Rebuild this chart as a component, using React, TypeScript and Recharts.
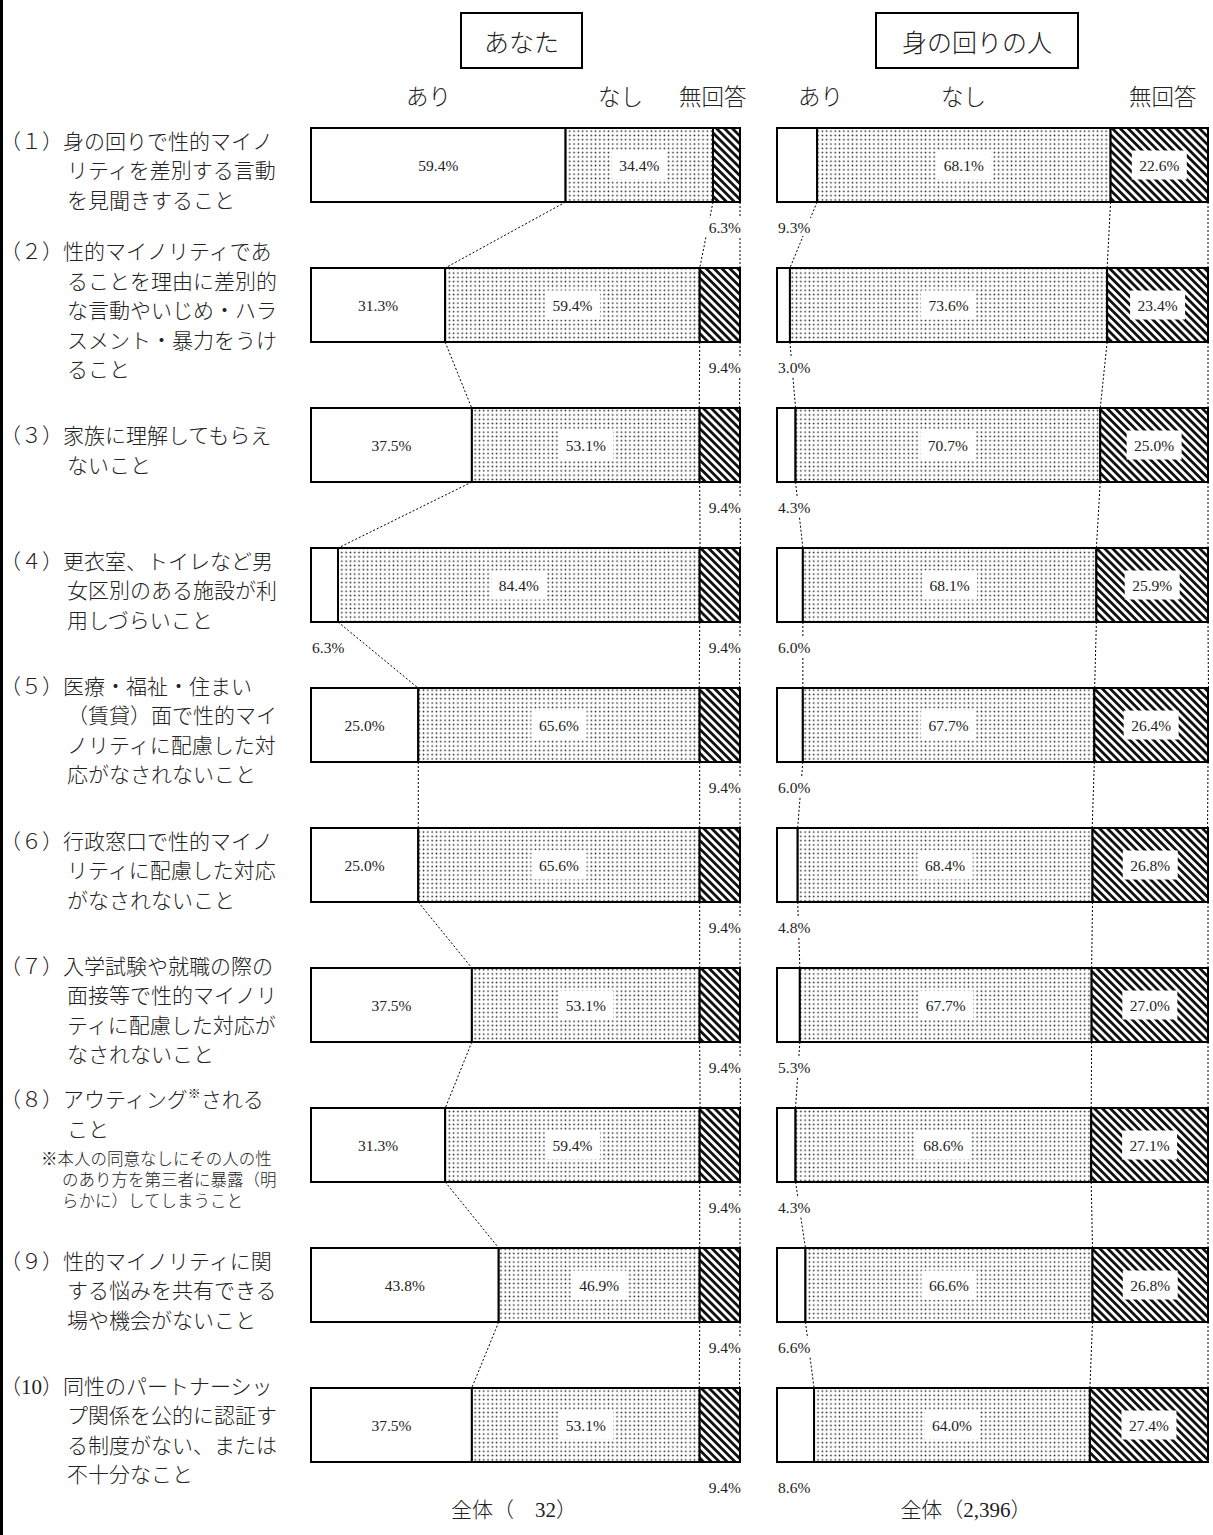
import React from 'react';
import { Bar, BarChart, XAxis, YAxis } from 'recharts';

const categories = ['(1)', '(2)', '(3)', '(4)', '(5)', '(6)', '(7)', '(8)', '(9)', '(10)'];

const itemPrefixes = ['（１）', '（２）', '（３）', '（４）', '（５）', '（６）', '（７）', '（８）', '（９）', '（10）'];

const itemLines = [
  ['身の回りで性的マイノ', 'リティを差別する言動', 'を見聞きすること'],
  ['性的マイノリティであ', 'ることを理由に差別的', 'な言動やいじめ・ハラ', 'スメント・暴力をうけ', 'ること'],
  ['家族に理解してもらえ', 'ないこと'],
  ['更衣室、トイレなど男', '女区別のある施設が利', '用しづらいこと'],
  ['医療・福祉・住まい', '（賃貸）面で性的マイ', 'ノリティに配慮した対', '応がなされないこと'],
  ['行政窓口で性的マイノ', 'リティに配慮した対応', 'がなされないこと'],
  ['入学試験や就職の際の', '面接等で性的マイノリ', 'ティに配慮した対応が', 'なされないこと'],
  ['アウティング※される', 'こと'],
  ['性的マイノリティに関', 'する悩みを共有できる', '場や機会がないこと'],
  ['同性のパートナーシッ', 'プ関係を公的に認証す', 'る制度がない、または', '不十分なこと'],
];

const outingNote = ['※本人の同意なしにその人の性', 'のあり方を第三者に暴露（明', 'らかに）してしまうこと'];

const seriesNames = ['あり', 'なし', '無回答'];

// あなた (n=32)
const youYes = [59.4, 31.3, 37.5, 6.3, 25.0, 25.0, 37.5, 31.3, 43.8, 37.5];
const youNo = [34.4, 59.4, 53.1, 84.4, 65.6, 65.6, 53.1, 59.4, 46.9, 53.1];
const youNa = [6.3, 9.4, 9.4, 9.4, 9.4, 9.4, 9.4, 9.4, 9.4, 9.4];

// 身の回りの人 (n=2,396)
const othersYes = [9.3, 3.0, 4.3, 6.0, 6.0, 4.8, 5.3, 4.3, 6.6, 8.6];
const othersNo = [68.1, 73.6, 70.7, 68.1, 67.7, 68.4, 67.7, 68.6, 66.6, 64.0];
const othersNa = [22.6, 23.4, 25.0, 25.9, 26.4, 26.8, 27.0, 27.1, 26.8, 27.4];

const youTotal = '全体（　32）';
const othersTotal = '全体（2,396）';

const FONT = '"Liberation Serif", "Noto Sans CJK JP", serif';
const INK = '#222';
const H = 1535;
const M_TOP = 95;
const M_BOTTOM = 40;
const ROW_PITCH = (H - M_TOP - M_BOTTOM) / categories.length;
const BAR = 74;

type Row = { item: string; yes: number; no: number; na: number };

function makeRows(yes: number[], no: number[], na: number[]): Row[] {
  return categories.map((item, i) => ({ item, yes: yes[i], no: no[i], na: na[i] }));
}

const youRows = makeRows(youYes, youNo, youNa);
const othersRows = makeRows(othersYes, othersNo, othersNa);

const pct = (v: number) => `${v.toFixed(1)}%`;

function BoxedText({ cx, cy, text, anchor = 'middle', box = true, w = 55, h = 29 }: any) {
  const bx = anchor === 'middle' ? cx - w / 2 : anchor === 'end' ? cx - w + 2 : cx - 2;
  return (
    <g>
      {box && <rect x={bx} y={cy - h / 2} width={w} height={h} fill="#fff" />}
      <text x={cx} y={cy} textAnchor={anchor} dominantBaseline="central" fontFamily={FONT} fontSize={15.5} fill={INK}>
        {text}
      </text>
    </g>
  );
}

function segmentShape(rows: Row[], key: 'yes' | 'no' | 'na', fill: string) {
  return function Segment(props: any) {
    const { x, y, width, height, index, payload } = props;
    const row: Row = payload ?? rows[index];
    const value = row[key];
    const parts: React.ReactNode[] = [];

    if (key === 'yes') {
      // dotted connectors to the next row, built from this bar's own scale
      const unit = width / row.yes;
      const next = rows[index + 1];
      if (next) {
        const cuts = (r: Row) => [r.yes, r.yes + r.no, r.yes + r.no + r.na].map((v) => x + v * unit);
        const a = cuts(row);
        const b = cuts(next);
        a.forEach((cx, k) =>
          parts.push(
            <line key={`c${k}`} x1={cx} y1={y + height} x2={b[k]} y2={y + ROW_PITCH} stroke="#000" strokeWidth={1} strokeDasharray="2 2" />
          )
        );
      }
    }

    parts.push(<rect key="r" x={x} y={y} width={width} height={height} fill={fill} stroke="#000" strokeWidth={2} />);

    if (value >= 10) {
      parts.push(<BoxedText key="t" cx={x + width / 2} cy={y + height / 2} text={pct(value)} box={key !== 'yes'} />);
    } else if (key === 'yes') {
      parts.push(<BoxedText key="t" cx={x + 1} cy={y + height + 25} text={pct(value)} anchor="start" w={38} h={18} />);
    } else {
      parts.push(<BoxedText key="t" cx={x + width + 1} cy={y + height + 25} text={pct(value)} anchor="end" w={38} h={18} />);
    }
    return <g>{parts}</g>;
  };
}

function renderLine(s: string) {
  if (!s.includes('※')) return s;
  const [head, tail] = s.split('※');
  return [
    head,
    <tspan key="m" fontSize={13} dy={-7}>※</tspan>,
    <tspan key="t" dy={7}>{tail}</tspan>,
  ];
}

function ItemTick(props: any) {
  const { y, payload } = props;
  const i = categories.indexOf(payload.value);
  if (i < 0) return null;
  const lines = itemLines[i];
  const note = i === 7 ? outingNote : [];
  const gap = 29.5;
  const noteGap = 21;
  const total = (lines.length - 1) * gap + (note.length ? 30 + (note.length - 1) * noteGap : 0);
  const top = y - total / 2 + 6;
  const noteTop = top + (lines.length - 1) * gap + 30;
  return (
    <g fontFamily={FONT} fill={INK} fontWeight={300}>
      <text x={0} y={top} fontSize={21} dominantBaseline="central">{itemPrefixes[i]}</text>
      {lines.map((line, k) => (
        <text key={k} x={k === 0 ? 63 : 67} y={top + k * gap} fontSize={21} dominantBaseline="central">
          {renderLine(line)}
        </text>
      ))}
      {note.map((line, k) => (
        <text key={`n${k}`} x={k === 0 ? 41 : 62} y={noteTop + k * noteGap} fontSize={16.5} dominantBaseline="central">
          {line}
        </text>
      ))}
    </g>
  );
}

function Patterns({ id }: { id: string }) {
  return (
    <defs>
      <pattern id={`dots-${id}`} patternUnits="userSpaceOnUse" width={4.3} height={4.3}>
        <rect width={4.3} height={4.3} fill="#fff" />
        <circle cx={2.15} cy={2.15} r={0.85} fill="#222" />
      </pattern>
      <pattern id={`hatch-${id}`} patternUnits="userSpaceOnUse" width={5.6} height={5.6} patternTransform="rotate(-45)">
        <rect width={5.6} height={5.6} fill="#fff" />
        <rect width={2.8} height={5.6} fill="#111" />
      </pattern>
    </defs>
  );
}

function Panel({ id, rows, width, margin, withItems }: any) {
  return (
    <BarChart
      layout="vertical"
      width={width}
      height={H}
      data={rows}
      margin={margin}
      barSize={BAR}
      stackOffset="expand"
    >
      <Patterns id={id} />
      <XAxis type="number" hide />
      <YAxis
        type="category"
        dataKey="item"
        hide={!withItems}
        width={withItems ? 311 : 0}
        axisLine={false}
        tickLine={false}
        interval={0}
        tick={<ItemTick />}
      />
      <Bar dataKey="yes" name={seriesNames[0]} stackId="s" isAnimationActive={false} shape={segmentShape(rows, 'yes', '#fff')} />
      <Bar dataKey="no" name={seriesNames[1]} stackId="s" isAnimationActive={false} shape={segmentShape(rows, 'no', `url(#dots-${id})`)} />
      <Bar dataKey="na" name={seriesNames[2]} stackId="s" isAnimationActive={false} shape={segmentShape(rows, 'na', `url(#hatch-${id})`)} />
    </BarChart>
  );
}

const abs = (left: number, top: number, extra: React.CSSProperties = {}): React.CSSProperties => ({
  position: 'absolute',
  left,
  top,
  ...extra,
});

export default function App() {
  const head = { fontSize: 22.5, lineHeight: '23px', color: INK, whiteSpace: 'nowrap' as const, fontWeight: 300 };
  const title = { border: '2px solid #000', display: 'flex', alignItems: 'center', justifyContent: 'center', fontSize: 25, color: INK, fontWeight: 300 } as const;
  const foot = { width: 200, textAlign: 'center' as const, fontSize: 21, lineHeight: '22px', color: INK, fontWeight: 300 };
  return (
    <div style={{ position: 'absolute', left: 0, top: 0, width: 1213, height: H, background: '#fff', fontFamily: FONT }}>
      <div style={abs(0, 0, { width: 3, height: H, background: '#000' })} />

      <div style={abs(460, 12, { width: 119, height: 53, ...title })}>あなた</div>
      <div style={abs(875, 12, { width: 200, height: 53, ...title })}>身の回りの人</div>

      <div style={abs(406, 86, head)}>{seriesNames[0]}</div>
      <div style={abs(598, 86, head)}>{seriesNames[1]}</div>
      <div style={abs(679, 86, head)}>{seriesNames[2]}</div>
      <div style={abs(798, 86, head)}>{seriesNames[0]}</div>
      <div style={abs(941, 86, head)}>{seriesNames[1]}</div>
      <div style={abs(1129, 86, head)}>{seriesNames[2]}</div>

      <div style={abs(0, 0)}>
        <Panel id="you" rows={youRows} width={760} margin={{ top: M_TOP, right: 20, bottom: M_BOTTOM, left: 0 }} withItems />
      </div>
      <div style={abs(760, 0)}>
        <Panel id="others" rows={othersRows} width={453} margin={{ top: M_TOP, right: 5, bottom: M_BOTTOM, left: 17 }} withItems={false} />
      </div>

      <div style={abs(414, 1499, foot)}>{youTotal}</div>
      <div style={abs(866, 1499, foot)}>{othersTotal}</div>
    </div>
  );
}
